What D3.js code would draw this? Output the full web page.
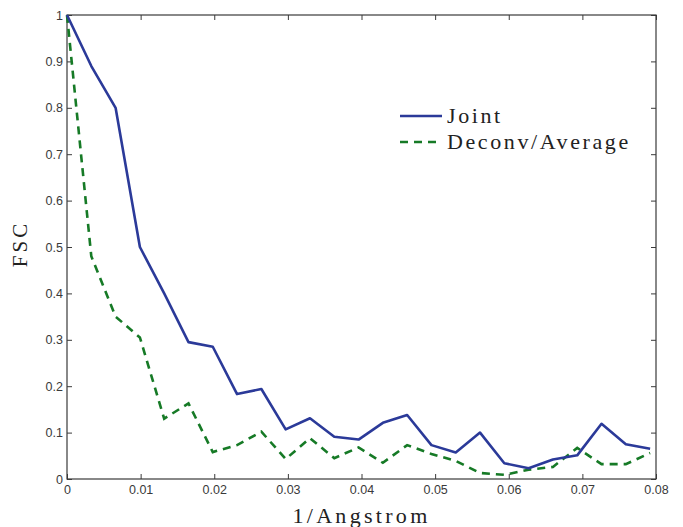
<!DOCTYPE html>
<html>
<head>
<meta charset="utf-8">
<script src="https://cdn.jsdelivr.net/npm/d3@7"></script>
<style>
  html, body { margin: 0; padding: 0; background: #fff; }
  svg { display: block; }
</style>
</head>
<body>
<svg id="chart" width="683" height="527"></svg>
<script>
// Spatial frequency samples (1/Angstrom), one shell every 0.0033
const freq = [0, 0.0033, 0.0066, 0.0099, 0.0132, 0.0165, 0.0198, 0.0231, 0.0264, 0.0297,
  0.033, 0.0363, 0.0396, 0.0429, 0.0462, 0.0495, 0.0528, 0.0561, 0.0594, 0.0627,
  0.066, 0.0693, 0.0726, 0.0759, 0.0792];
// Fourier shell correlation per method
const fscJoint = [1.0, 0.89, 0.80, 0.50, 0.40, 0.295, 0.285, 0.183, 0.194, 0.107,
  0.131, 0.091, 0.085, 0.121, 0.138, 0.073, 0.057, 0.100, 0.034, 0.023,
  0.042, 0.051, 0.119, 0.075, 0.065];
const fscDeconv = [1.0, 0.48, 0.35, 0.305, 0.13, 0.163, 0.058, 0.073, 0.102, 0.043,
  0.088, 0.045, 0.068, 0.035, 0.073, 0.054, 0.039, 0.013, 0.009, 0.02,
  0.026, 0.067, 0.032, 0.032, 0.056];
const seriesNames = ["Joint", "Deconv/Average"];
const xTicks = [0, 0.01, 0.02, 0.03, 0.04, 0.05, 0.06, 0.07, 0.08];
const yTicks = [0, 0.1, 0.2, 0.3, 0.4, 0.5, 0.6, 0.7, 0.8, 0.9, 1];

const svg = d3.select("#chart");
const m = { left: 67, right: 27, top: 15, bottom: 48 };
const W = 683, H = 527;
const x = d3.scaleLinear().domain([0, 0.08]).range([m.left, W - m.right]);
const y = d3.scaleLinear().domain([0, 1]).range([H - m.bottom, m.top]);

const tickFmt = d => d === 0 ? "0" : d3.format("~g")(d);
const axisColor = "#3a3a3a";

function styleAxis(g, showLabels) {
  g.select(".domain").remove();
  g.selectAll(".tick line").attr("stroke", axisColor).attr("stroke-width", 1);
  g.selectAll(".tick text")
    .attr("fill", "#3a3a3a")
    .style("font-family", "'Liberation Sans', Arial, sans-serif")
    .style("font-size", "12.5px");
  if (!showLabels) g.selectAll(".tick text").remove();
}

// Bottom axis (inward ticks)
svg.append("g")
  .attr("transform", `translate(0,${y(0)})`)
  .call(d3.axisBottom(x).tickValues(xTicks).tickFormat(tickFmt).tickSizeInner(-5).tickSizeOuter(0).tickPadding(6))
  .call(g => styleAxis(g, true));
// Top axis
svg.append("g")
  .attr("transform", `translate(0,${y(1)})`)
  .call(d3.axisTop(x).tickValues(xTicks).tickSizeInner(-5).tickSizeOuter(0))
  .call(g => styleAxis(g, false));
// Left axis
svg.append("g")
  .attr("transform", `translate(${x(0)},0)`)
  .call(d3.axisLeft(y).tickValues(yTicks).tickFormat(tickFmt).tickSizeInner(-5).tickSizeOuter(0).tickPadding(4))
  .call(g => styleAxis(g, true));
// Right axis
svg.append("g")
  .attr("transform", `translate(${x(0.08)},0)`)
  .call(d3.axisRight(y).tickValues(yTicks).tickSizeInner(-5).tickSizeOuter(0))
  .call(g => styleAxis(g, false));

// Plot box
svg.append("rect")
  .attr("x", x(0)).attr("y", y(1))
  .attr("width", x(0.08) - x(0)).attr("height", y(0) - y(1))
  .attr("fill", "none").attr("stroke", axisColor).attr("stroke-width", 1.2);

const line = d3.line().x(d => x(d[0])).y(d => y(d[1]));

svg.append("path")
  .datum(freq.map((f, i) => [f, fscDeconv[i]]))
  .attr("d", line)
  .attr("fill", "none")
  .attr("stroke", "#167a26")
  .attr("stroke-width", 2.6)
  .attr("stroke-dasharray", "8,6");

svg.append("path")
  .datum(freq.map((f, i) => [f, fscJoint[i]]))
  .attr("d", line)
  .attr("fill", "none")
  .attr("stroke", "#2b3a99")
  .attr("stroke-width", 2.6)
  .attr("stroke-linejoin", "round");

// Legend
const serif = "'Liberation Serif', 'DejaVu Serif', serif";
const legend = svg.append("g");
const legendItems = [
  { name: seriesNames[0], color: "#2b3a99", dash: null, y: 116 },
  { name: seriesNames[1], color: "#167a26", dash: "8,6", y: 142 }
];
legendItems.forEach(it => {
  legend.append("line")
    .attr("x1", 400).attr("x2", 442).attr("y1", it.y).attr("y2", it.y)
    .attr("stroke", it.color).attr("stroke-width", 2.6)
    .attr("stroke-dasharray", it.dash);
  legend.append("text")
    .attr("x", 447).attr("y", it.y + 7)
    .text(it.name)
    .attr("fill", "#222")
    .style("font-family", serif)
    .style("font-size", "22px")
    .style("letter-spacing", "2.6px");
});

// Axis titles
svg.append("text")
  .attr("x", (x(0) + x(0.08)) / 2).attr("y", 523)
  .attr("text-anchor", "middle")
  .text("1/Angstrom")
  .attr("fill", "#222")
  .style("font-family", serif)
  .style("font-size", "22px")
  .style("letter-spacing", "3.3px");

svg.append("text")
  .attr("transform", `translate(27,${(y(0) + y(1)) / 2 - 3}) rotate(-90)`)
  .attr("text-anchor", "middle")
  .text("FSC")
  .attr("fill", "#222")
  .style("font-family", serif)
  .style("font-size", "21px")
  .style("letter-spacing", "3px");
</script>
</body>
</html>
